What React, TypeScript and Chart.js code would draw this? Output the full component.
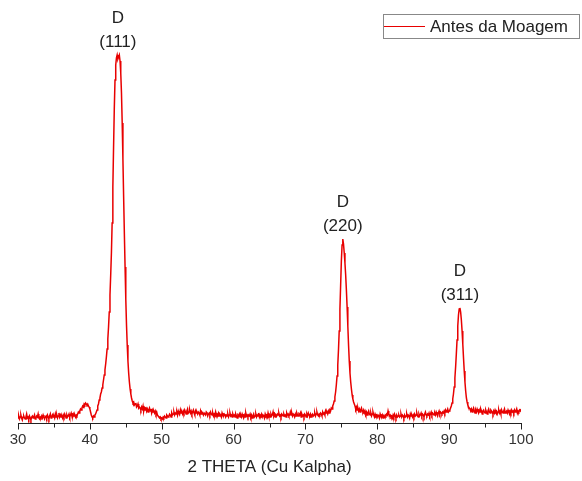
import React, { useEffect, useRef } from "react";
import { Chart, registerables } from "chart.js";

Chart.register(...registerables);

// Scan grid: 2-theta from 30 to 100 degrees, step 0.1
const SCAN_START = 30;
const SCAN_STEP = 0.1;

// Intensity (arbitrary units), one row per degree
const intensity30to40 = [
  5, 7, 4, 6, 8, 5, 3, 6, 7, 5,
  4, 6, 9, 5, 6, 4, 7, 5, 3, 6,
  7, 5, 6, 8, 4, 5, 7, 6, 9, 5,
  4, 6, 5, 7, 5, 8, 6, 4, 6, 7,
  5, 8, 6, 4, 7, 9, 5, 6, 8, 6,
  7, 5, 9, 6, 8, 5, 7, 10, 6, 8,
  6, 7, 5, 8, 6, 9, 7, 5, 8, 6,
  7, 9, 6, 8, 10, 7, 6, 9, 7, 8,
  6, 8, 7, 9, 11, 10, 12, 14, 13, 15,
  17, 16, 19, 18, 20, 19, 18, 19, 17, 16,
];
const intensity40to50 = [
  14, 11, 8, 6, 5, 7, 6, 8, 9, 11,
  13, 17, 19, 23, 25, 29, 31, 35, 38, 43,
  48, 53, 59, 66, 74, 84, 96, 111, 128, 148,
  170, 200, 236, 276, 314, 343, 358, 365, 368, 364,
  366, 368, 362, 350, 330, 300, 264, 226, 190, 156,
  124, 98, 78, 62, 50, 41, 34, 29, 25, 22,
  20, 21, 18, 19, 20, 16, 17, 19, 15, 16,
  15, 13, 16, 14, 17, 12, 15, 13, 16, 12,
  14, 11, 13, 15, 12, 14, 10, 13, 11, 12,
  10, 12, 9, 11, 8, 7, 6, 5, 6, 4,
];
const intensity50to60 = [
  5, 4, 6, 5, 7, 6, 5, 8, 7, 6,
  7, 9, 8, 6, 10, 8, 9, 11, 8, 10,
  9, 11, 8, 12, 10, 9, 13, 10, 11, 9,
  12, 10, 13, 11, 9, 12, 14, 10, 11, 13,
  10, 12, 9, 11, 13, 10, 8, 12, 10, 11,
  9, 11, 10, 8, 12, 9, 11, 10, 8, 10,
  9, 8, 11, 10, 7, 9, 10, 8, 11, 9,
  8, 10, 7, 9, 8, 11, 7, 9, 8, 10,
  7, 9, 8, 6, 10, 8, 7, 9, 8, 6,
  8, 7, 9, 6, 8, 10, 7, 8, 6, 9,
];
const intensity60to70 = [
  7, 8, 6, 9, 7, 5, 8, 7, 9, 6,
  8, 6, 9, 7, 5, 8, 6, 10, 7, 8,
  6, 8, 7, 9, 6, 8, 5, 7, 9, 6,
  7, 9, 6, 8, 7, 10, 6, 8, 7, 9,
  6, 8, 7, 5, 9, 7, 8, 6, 10, 7,
  8, 6, 9, 7, 8, 11, 7, 9, 6, 8,
  7, 9, 8, 10, 7, 8, 6, 9, 8, 7,
  9, 7, 8, 6, 10, 8, 9, 7, 8, 11,
  8, 10, 7, 9, 8, 6, 9, 7, 10, 8,
  7, 9, 8, 10, 6, 9, 7, 8, 6, 9,
];
const intensity70to80 = [
  8, 6, 9, 7, 10, 8, 7, 9, 6, 8,
  9, 7, 8, 10, 7, 9, 11, 8, 7, 9,
  8, 10, 9, 7, 11, 9, 10, 8, 12, 10,
  11, 9, 12, 10, 13, 12, 15, 14, 17, 19,
  22, 26, 31, 38, 47, 58, 73, 92, 114, 138,
  162, 178, 184, 179, 170, 160, 148, 133, 116, 97,
  78, 62, 50, 41, 34, 28, 24, 21, 19, 17,
  14, 16, 13, 15, 12, 14, 11, 13, 15, 12,
  11, 13, 10, 12, 9, 11, 8, 10, 12, 9,
  8, 10, 7, 9, 11, 8, 6, 9, 7, 8,
];
const intensity80to90 = [
  6, 8, 7, 5, 9, 7, 6, 8, 5, 7,
  6, 8, 7, 9, 8, 12, 9, 7, 8, 6,
  7, 5, 8, 6, 9, 7, 5, 8, 6, 7,
  8, 6, 7, 9, 6, 8, 7, 5, 8, 6,
  7, 9, 6, 8, 7, 5, 9, 7, 8, 6,
  8, 6, 9, 7, 8, 10, 7, 6, 9, 7,
  8, 10, 7, 9, 8, 6, 9, 11, 8, 7,
  9, 8, 10, 7, 9, 11, 8, 10, 9, 8,
  10, 8, 11, 9, 7, 10, 12, 9, 11, 10,
  9, 11, 10, 12, 10, 13, 11, 12, 14, 11,
];
const intensity90to100 = [
  12, 13, 15, 17, 20, 24, 29, 36, 45, 56,
  69, 83, 97, 108, 114, 115, 111, 103, 92, 79,
  65, 52, 41, 32, 25, 21, 18, 16, 15, 14,
  12, 14, 11, 13, 15, 12, 10, 13, 11, 14,
  12, 10, 13, 11, 14, 12, 9, 12, 13, 11,
  10, 13, 11, 9, 12, 14, 11, 10, 13, 12,
  11, 9, 12, 10, 13, 11, 12, 9, 11, 13,
  10, 12, 9, 13, 11, 10, 12, 14, 10, 11,
  12, 10, 13, 11, 9, 12, 10, 13, 11, 12,
  10, 13, 11, 12, 14, 10, 12, 11, 13, 12,
  14,
];

const majorTicks = [30, 40, 50, 60, 70, 80, 90, 100];
const minorTicks = [35, 45, 55, 65, 75, 85, 95];

const peakAngles = [43.9, 75.2, 91.5];
const peakIntensities = [368, 184, 115];
const peakPhase = ["D", "D", "D"];
const peakPlanes = ["(111)", "(220)", "(311)"];

const seriesName = "Antes da Moagem";
const xTitle = "2 THETA (Cu Kalpha)";

const FONT = "'Liberation Sans', Arial, sans-serif";
const RED = "rgb(232, 0, 0)";

const decorPlugin = {
  id: "decor",
  afterDatasetsDraw(chart: any) {
    const { ctx, chartArea, scales } = chart;
    const xs = scales.x;
    const ys = scales.y;
    ctx.save();
    // axis line and ticks
    const by = Math.round(chartArea.bottom) + 0.5;
    ctx.strokeStyle = "#222";
    ctx.lineWidth = 1;
    ctx.beginPath();
    ctx.moveTo(Math.round(xs.getPixelForValue(30)), by);
    ctx.lineTo(Math.round(xs.getPixelForValue(100)) + 1, by);
    for (const v of majorTicks) {
      const px = Math.round(xs.getPixelForValue(v)) + 0.5;
      ctx.moveTo(px, by);
      ctx.lineTo(px, by + 6);
    }
    for (const v of minorTicks) {
      const px = Math.round(xs.getPixelForValue(v)) + 0.5;
      ctx.moveTo(px, by);
      ctx.lineTo(px, by + 4);
    }
    ctx.stroke();

    // peak labels
    ctx.fillStyle = "#222";
    ctx.font = `17px ${FONT}`;
    ctx.textAlign = "center";
    ctx.textBaseline = "middle";
    peakAngles.forEach((a, i) => {
      const px = xs.getPixelForValue(a);
      const py = ys.getPixelForValue(peakIntensities[i]);
      ctx.fillText(peakPhase[i], px, py - 37);
      ctx.fillText(peakPlanes[i], px, py - 13);
    });

    // legend
    const lx = 383.5, ly = 14.5, lw = 196, lh = 24;
    ctx.strokeStyle = "#888";
    ctx.lineWidth = 1;
    ctx.strokeRect(lx, ly, lw, lh);
    ctx.strokeStyle = RED;
    ctx.beginPath();
    ctx.moveTo(384, 26.5);
    ctx.lineTo(425, 26.5);
    ctx.stroke();
    ctx.fillStyle = "#222";
    ctx.textAlign = "left";
    ctx.font = `17px ${FONT}`;
    ctx.fillText(seriesName, 430, 27);
    ctx.restore();
  },
};

export default function App() {
  const ref = useRef<HTMLCanvasElement | null>(null);
  useEffect(() => {
    document.body.style.margin = "0";
    const intensities = [
      ...intensity30to40,
      ...intensity40to50,
      ...intensity50to60,
      ...intensity60to70,
      ...intensity70to80,
      ...intensity80to90,
      ...intensity90to100,
    ];
    const points = intensities.map((v, i) => ({
      x: Math.round((SCAN_START + i * SCAN_STEP) * 10) / 10,
      y: v,
    }));
    const chart = new Chart(ref.current as HTMLCanvasElement, {
      type: "line",
      data: {
        datasets: [
          {
            label: seriesName,
            data: points,
            borderColor: RED,
            borderWidth: 1.5,
            pointRadius: 0,
            tension: 0,
          },
        ],
      },
      options: {
        responsive: false,
        animation: false,
        devicePixelRatio: 1,
        layout: { padding: { left: 18, right: 61, top: 23, bottom: 0 } },
        plugins: { legend: { display: false }, tooltip: { enabled: false } },
        scales: {
          x: {
            type: "linear",
            min: 30,
            max: 100,
            grid: { display: false },
            border: { display: false },
            ticks: {
              stepSize: 10,
              padding: 0,
              color: "#333",
              font: { family: FONT, size: 15 },
            },
            title: {
              display: true,
              text: xTitle,
              color: "#222",
              font: { family: FONT, size: 17 },
              padding: { top: 0, bottom: 3 },
            },
            afterFit: (scale: any) => {
              scale.height = 58;
            },
          },
          y: {
            display: false,
            min: 0,
            max: 400,
          },
        },
      },
      plugins: [decorPlugin],
    });
    return () => chart.destroy();
  }, []);
  return (
    <div style={{ width: 582, height: 481 }}>
      <canvas ref={ref} width={582} height={481} />
    </div>
  );
}
